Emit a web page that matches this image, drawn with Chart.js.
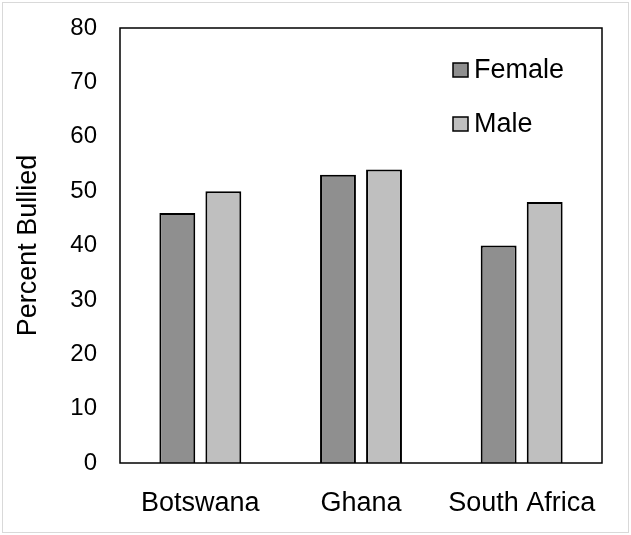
<!DOCTYPE html>
<html>
<head>
<meta charset="utf-8">
<script src="https://cdn.jsdelivr.net/npm/chart.js@4/dist/chart.umd.min.js"></script>
<style>
html,body{margin:0;padding:0;background:#fff;}
#wrap{position:relative;width:631px;height:535px;}
#frame{position:absolute;left:2px;top:2px;width:625px;height:529px;border:1px solid #d9d9d9;pointer-events:none;}
canvas{position:absolute;left:0;top:0;}
</style>
</head>
<body>
<div id="wrap">
<canvas id="c" width="631" height="535"></canvas>
<div id="frame"></div>
</div>
<script>
const categories = ['Botswana', 'Ghana', 'South Africa'];
const femaleValues = [46, 53, 40];
const maleValues = [50, 54, 48];
const seriesNames = ['Female', 'Male'];
const yTickValues = [0, 10, 20, 30, 40, 50, 60, 70, 80];
const yTitle = 'Percent Bullied';

const FONT = '"Liberation Sans", Arial, sans-serif';
const FS_TICK = 24;
const FS_TEXT = 27;

const boxPlugin = {
  id: 'boxPlugin',
  afterDatasetsDraw(chart) {
    const {ctx, chartArea: a} = chart;
    ctx.save();
    ctx.strokeStyle = '#000';
    ctx.lineWidth = 1.5;
    ctx.strokeRect(a.left, a.top, a.right - a.left, a.bottom - a.top);
    ctx.restore();
  },
  afterDraw(chart) {
    const ctx = chart.ctx;
    const a = chart.chartArea;
    ctx.save();
    ctx.font = FS_TEXT + 'px ' + FONT;
    ctx.textBaseline = 'middle';
    ctx.textAlign = 'left';
    chart.data.datasets.forEach((ds, i) => {
      const x = a.left + 333;
      const y = a.top + 42 + i * 54;
      ctx.fillStyle = ds.backgroundColor;
      ctx.fillRect(x, y - 7, 15, 14);
      ctx.strokeStyle = '#000';
      ctx.lineWidth = 1.5;
      ctx.strokeRect(x, y - 7, 15, 14);
      ctx.fillStyle = '#000';
      ctx.fillText(ds.label, x + 21, y + 1);
    });
    ctx.restore();
  }
};

new Chart(document.getElementById('c'), {
  type: 'bar',
  data: {
    labels: categories,
    datasets: [
      {label: seriesNames[0], data: femaleValues, backgroundColor: '#8f8f8f', borderColor: '#000', borderWidth: 2,
       categoryPercentage: 0.573, barPercentage: 0.78},
      {label: seriesNames[1], data: maleValues, backgroundColor: '#bfbfbf', borderColor: '#000', borderWidth: 2,
       categoryPercentage: 0.573, barPercentage: 0.78}
    ]
  },
  options: {
    responsive: false,
    animation: false,
    devicePixelRatio: 1,
    layout: {padding: {left: 0, right: 29, top: 28, bottom: 0}},
    plugins: {legend: {display: false}, tooltip: {enabled: false}},
    scales: {
      x: {
        grid: {display: false, drawTicks: false},
        border: {display: false},
        ticks: {color: '#000', font: {family: FONT, size: FS_TEXT}, padding: 24, maxRotation: 0, autoSkip: false},
        afterFit(s) { s.height = 72; s.paddingLeft = 0; s.paddingRight = 0; }
      },
      y: {
        min: 0, max: 80,
        afterBuildTicks(s) { s.ticks = yTickValues.map(v => ({value: v})); },
        grid: {display: false, drawTicks: false},
        border: {display: false},
        ticks: {color: '#000', font: {family: FONT, size: FS_TICK}, padding: 23},
        title: {display: true, text: yTitle, color: '#000', font: {family: FONT, size: FS_TEXT}, padding: {top: 12, bottom: 0}},
        afterFit(s) { s.width = 120; s.paddingTop = 0; s.paddingBottom = 0; }
      }
    }
  },
  plugins: [boxPlugin]
});
</script>
</body>
</html>
